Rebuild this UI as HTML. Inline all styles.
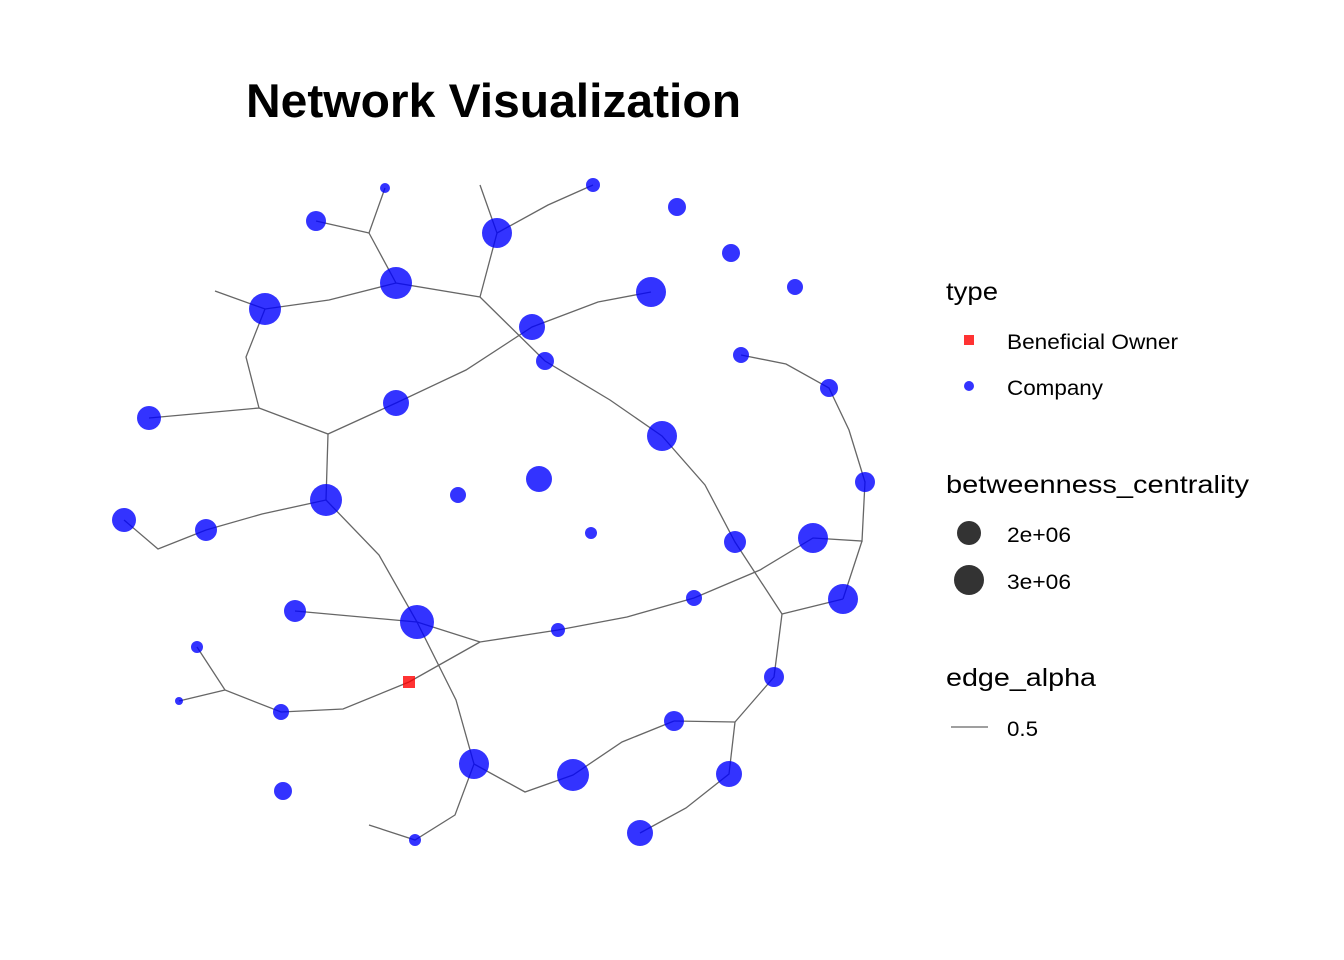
<!DOCTYPE html>
<html><head><style>html,body{margin:0;padding:0;background:#fff}svg{display:block}</style></head><body>
<svg width="1344" height="960" xmlns="http://www.w3.org/2000/svg" font-family="Liberation Sans, Arial, sans-serif">
<rect width="1344" height="960" fill="#fff"/>
<text x="246" y="117" font-size="47" font-weight="bold" fill="#000" textLength="495" lengthAdjust="spacingAndGlyphs">Network Visualization</text>
<g stroke="#666" stroke-width="1.3" fill="none">
<polyline points="480,185 497,233 480,297"/>
<polyline points="497,233 548,205 593,185"/>
<polyline points="385,188 369,233 316,221"/>
<polyline points="369,233 396,283 480,297 545,361 610,400 662,436 705,485 735,542 782,614 843,599"/>
<polyline points="782,614 774,677 735,722 674,721"/>
<polyline points="735,722 729,774 686,808 640,833"/>
<polyline points="396,283 329,300 265,309 215,291"/>
<polyline points="265,309 246,357 259,408 149,418"/>
<polyline points="259,408 328,434 396,403 466,370 532,327 598,302 651,292"/>
<polyline points="328,434 326,500 262,514 206,530 158,549 124,520"/>
<polyline points="326,500 379,555 417,622 295,611"/>
<polyline points="417,622 480,642 558,630 627,617 694,598 760,570 813,538 862,541 865,482 849,430 829,388 786,364 741,355"/>
<polyline points="862,541 843,599"/>
<polyline points="480,642 409,682 343,709 281,712 225,690 197,647"/>
<polyline points="225,690 179,701"/>
<polyline points="417,622 456,700 474,764 455,815 415,840 369,825"/>
<polyline points="474,764 525,792 573,775 622,742 674,721"/>
</g>
<g fill="#0000ff" fill-opacity="0.8">
<circle cx="385" cy="188" r="5"/><circle cx="593" cy="185" r="7"/><circle cx="316" cy="221" r="10"/>
<circle cx="497" cy="233" r="15"/><circle cx="677" cy="207" r="9"/><circle cx="731" cy="253" r="9"/>
<circle cx="795" cy="287" r="8"/><circle cx="396" cy="283" r="16"/><circle cx="265" cy="309" r="16"/>
<circle cx="651" cy="292" r="15"/><circle cx="532" cy="327" r="13"/><circle cx="545" cy="361" r="9"/>
<circle cx="741" cy="355" r="8"/><circle cx="829" cy="388" r="9"/><circle cx="396" cy="403" r="13"/>
<circle cx="149" cy="418" r="12"/><circle cx="662" cy="436" r="15"/><circle cx="865" cy="482" r="10"/>
<circle cx="539" cy="479" r="13"/><circle cx="458" cy="495" r="8"/><circle cx="326" cy="500" r="16"/>
<circle cx="124" cy="520" r="12"/><circle cx="206" cy="530" r="11"/><circle cx="591" cy="533" r="6"/>
<circle cx="735" cy="542" r="11"/><circle cx="813" cy="538" r="15"/><circle cx="843" cy="599" r="15"/>
<circle cx="694" cy="598" r="8"/><circle cx="295" cy="611" r="11"/><circle cx="417" cy="622" r="17"/>
<circle cx="558" cy="630" r="7"/><circle cx="197" cy="647" r="6"/><circle cx="179" cy="701" r="4"/>
<circle cx="281" cy="712" r="8"/><circle cx="774" cy="677" r="10"/><circle cx="674" cy="721" r="10"/>
<circle cx="474" cy="764" r="15"/><circle cx="573" cy="775" r="16"/><circle cx="729" cy="774" r="13"/>
<circle cx="283" cy="791" r="9"/><circle cx="640" cy="833" r="13"/><circle cx="415" cy="840" r="6"/>
</g>
<rect x="403" y="676" width="12" height="12" fill="#ff0000" fill-opacity="0.8"/>
<g font-size="25" fill="#000">
<text x="946" y="300" textLength="52" lengthAdjust="spacingAndGlyphs">type</text>
<text x="946" y="493" textLength="303" lengthAdjust="spacingAndGlyphs">betweenness_centrality</text>
<text x="946" y="686" textLength="150" lengthAdjust="spacingAndGlyphs">edge_alpha</text></g>
<g font-size="21" fill="#000">
<text x="1007" y="349" textLength="171" lengthAdjust="spacingAndGlyphs">Beneficial Owner</text>
<text x="1007" y="395" textLength="96" lengthAdjust="spacingAndGlyphs">Company</text>
<text x="1007" y="542" textLength="64" lengthAdjust="spacingAndGlyphs">2e+06</text>
<text x="1007" y="589" textLength="64" lengthAdjust="spacingAndGlyphs">3e+06</text>
<text x="1007" y="736" textLength="31" lengthAdjust="spacingAndGlyphs">0.5</text></g>
<rect x="964" y="335" width="10" height="10" fill="#ff0000" fill-opacity="0.8"/>
<circle cx="969" cy="386" r="5" fill="#0000ff" fill-opacity="0.8"/>
<circle cx="969" cy="533" r="12" fill="#333"/>
<circle cx="969" cy="580" r="15" fill="#333"/>
<line x1="951" y1="727" x2="988" y2="727" stroke="#666" stroke-width="1.3"/>
</svg>
</body></html>
